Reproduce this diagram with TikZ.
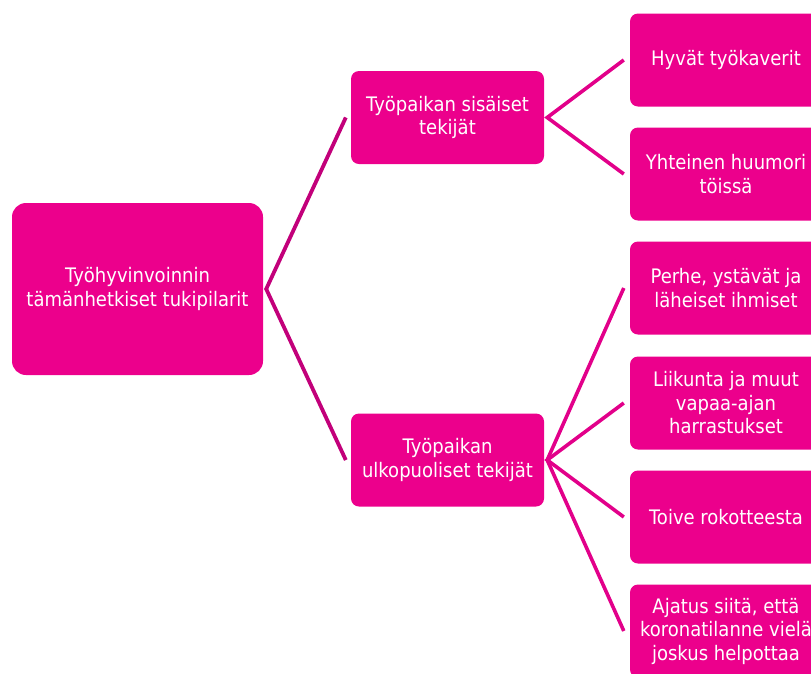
\documentclass[tikz,border=0pt]{standalone}
\usepackage{fontspec}
\setmainfont[FakeStretch=0.9]{DejaVu Sans}
\definecolor{boxfill}{HTML}{EC008C}
\definecolor{linkA}{HTML}{C2007A}
\definecolor{linkB}{HTML}{E2008A}
\begin{document}
\begin{tikzpicture}[x=1pt,y=-1pt,
  box/.style={fill=boxfill, text=white, rounded corners=8pt, align=center,
    font=\fontsize{20}{23.5}\selectfont, inner sep=0pt},
  rootbox/.style={box, minimum width=251pt, minimum height=172pt, rounded corners=14pt},
  midbox/.style={box, minimum width=193pt, minimum height=93pt},
  leafbox/.style={box, minimum width=192pt, minimum height=93pt},
  linkone/.style={draw=linkA, line width=3.8pt, line join=miter},
  linktwo/.style={draw=linkB, line width=3.6pt, line join=miter}]
\useasboundingbox (0,0) rectangle (811,673);
\clip (0,0) rectangle (811,673);

\node[rootbox] (root) at (137.5,289) {Työhyvinvoinnin\\tämänhetkiset tukipilarit};
\node[midbox] (inner) at (447.5,117.5) {Työpaikan sisäiset\\tekijät};
\node[midbox] (outer) at (447.5,460) {Työpaikan\\ulkopuoliset tekijät};

\node[leafbox] (l1) at (726,60) {Hyvät työkaverit};
\node[leafbox] (l2) at (726,174) {Yhteinen huumori\\töissä};
\node[leafbox] (l3) at (726,288) {Perhe, ystävät ja\\läheiset ihmiset};
\node[leafbox] (l4) at (726,403) {Liikunta ja muut\\vapaa-ajan\\harrastukset};
\node[leafbox] (l5) at (726,517) {Toive rokotteesta};
\node[leafbox] (l6) at (726,631) {Ajatus siitä, että\\koronatilanne vielä\\joskus helpottaa};

\draw[linkone] ([xshift=-5pt]inner.west) -- ([xshift=3pt]root.east) -- ([xshift=-5pt]outer.west);
\draw[linktwo] ([xshift=-6pt]l1.west) -- ([xshift=3pt]inner.east) -- ([xshift=-6pt]l2.west);
\draw[linktwo] ([xshift=-6pt]l3.west) -- ([xshift=3pt]outer.east) -- ([xshift=-6pt]l6.west);
\draw[linktwo] ([xshift=-6pt]l4.west) -- ([xshift=3pt]outer.east) -- ([xshift=-6pt]l5.west);
\end{tikzpicture}
\end{document}
